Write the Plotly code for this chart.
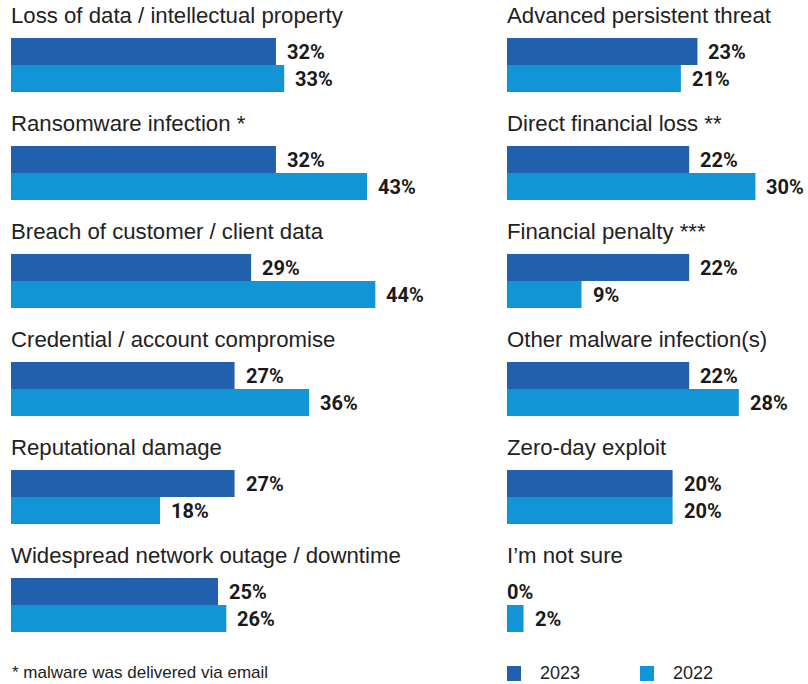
import plotly.graph_objects as go

# ---------------- data ----------------
left_categories = [
    "Loss of data / intellectual property",
    "Ransomware infection *",
    "Breach of customer / client data",
    "Credential / account compromise",
    "Reputational damage",
    "Widespread network outage / downtime",
]
left_2023 = [32, 32, 29, 27, 27, 25]
left_2022 = [33, 43, 44, 36, 18, 26]

right_categories = [
    "Advanced persistent threat",
    "Direct financial loss **",
    "Financial penalty ***",
    "Other malware infection(s)",
    "Zero-day exploit",
    "I’m not sure",
]
right_2023 = [23, 22, 22, 22, 20, 0]
right_2022 = [21, 30, 9, 28, 20, 2]

series_names = ["2023", "2022"]
footnote = "* malware was delivered via email"

# ---------------- style / layout ----------------
C2023 = "#2160ad"
C2022 = "#1195d6"
W, H = 808, 684
PX_PER_PCT = 8.28
GROUP_PX = 108.0
Y_TITLE = 15.5 / GROUP_PX
Y_B23 = 51.5 / GROUP_PX
Y_B22 = 78.5 / GROUP_PX
BAR_H = 27.0 / GROUP_PX

TEXT_COLOR = "#222222"
TITLE_FONT = dict(family="Liberation Sans, Arial, sans-serif", size=22.2, color=TEXT_COLOR)
LABEL_FONT = dict(family="Roboto, Liberation Sans, sans-serif", size=20, color="#1a1a1a", weight="bold")
SMALL_FONT = dict(family="Liberation Sans, Arial, sans-serif", size=17, color=TEXT_COLOR)

columns = [
    (left_categories, left_2023, left_2022, 11, 400, "x"),
    (right_categories, right_2023, right_2022, 507, 300, "x2"),
]

fig = go.Figure()
annotations = []
shapes = []
for ci, (cats, v23, v22, x0px, wpx, xa) in enumerate(columns):
    idx = list(range(len(cats)))
    for si, (vals, col, yoff) in enumerate([(v23, C2023, Y_B23), (v22, C2022, Y_B22)]):
        fig.add_trace(go.Bar(
            x=vals, y=[i + yoff for i in idx], width=BAR_H, orientation="h",
            marker=dict(color=col, line=dict(width=0)), name=series_names[si],
            showlegend=False, xaxis=xa, yaxis="y", hoverinfo="skip",
        ))
        for i, v in zip(idx, vals):
            annotations.append(dict(
                x=v, y=i + yoff, xref=xa, yref="y", text=f"{v}%", showarrow=False,
                xanchor="left", yanchor="middle", xshift=(9 if v > 0 else -2), font=LABEL_FONT,
            ))
    for i, c in zip(idx, cats):
        annotations.append(dict(
            x=0, y=i + Y_TITLE, xref=xa, yref="y", text=c, showarrow=False,
            xanchor="left", yanchor="middle", xshift=-2, font=TITLE_FONT,
        ))

# footnote
annotations.append(dict(
    x=12 / W, y=1 - 672 / H, xref="paper", yref="paper", text=footnote, showarrow=False,
    xanchor="left", yanchor="middle", xshift=-2, font=SMALL_FONT,
))

# manual legend (swatch + label)
legend_x_px = [507, 640]
for name, col, lx in zip(series_names, [C2023, C2022], legend_x_px):
    shapes.append(dict(type="rect", xref="paper", yref="paper",
                       x0=lx / W, x1=(lx + 14) / W, y0=1 - 681 / H, y1=1 - 666 / H,
                       fillcolor=col, line=dict(width=0)))
    annotations.append(dict(
        x=(lx + 33) / W, y=1 - 673 / H, xref="paper", yref="paper", text=name, showarrow=False,
        xanchor="left", yanchor="middle", xshift=-2, font=dict(SMALL_FONT, size=18),
    ))

def xaxis_for(x0px, wpx):
    return dict(domain=[x0px / W, (x0px + wpx) / W], range=[0, wpx / PX_PER_PCT],
                visible=False, fixedrange=True, anchor="y")

fig.update_layout(
    width=W, height=H, margin=dict(l=0, r=0, t=0, b=0, autoexpand=False),
    paper_bgcolor="white", plot_bgcolor="white",
    barmode="overlay",
    xaxis=xaxis_for(11, 400),
    xaxis2=xaxis_for(507, 300),
    yaxis=dict(domain=[0, 1], range=[H / GROUP_PX, 0], visible=False, fixedrange=True),
    annotations=annotations,
    shapes=shapes,
    showlegend=False,
    hovermode=False,
)

fig.write_html("out.html", config={"displayModeBar": False},
               post_script="document.body.style.margin='0';")
